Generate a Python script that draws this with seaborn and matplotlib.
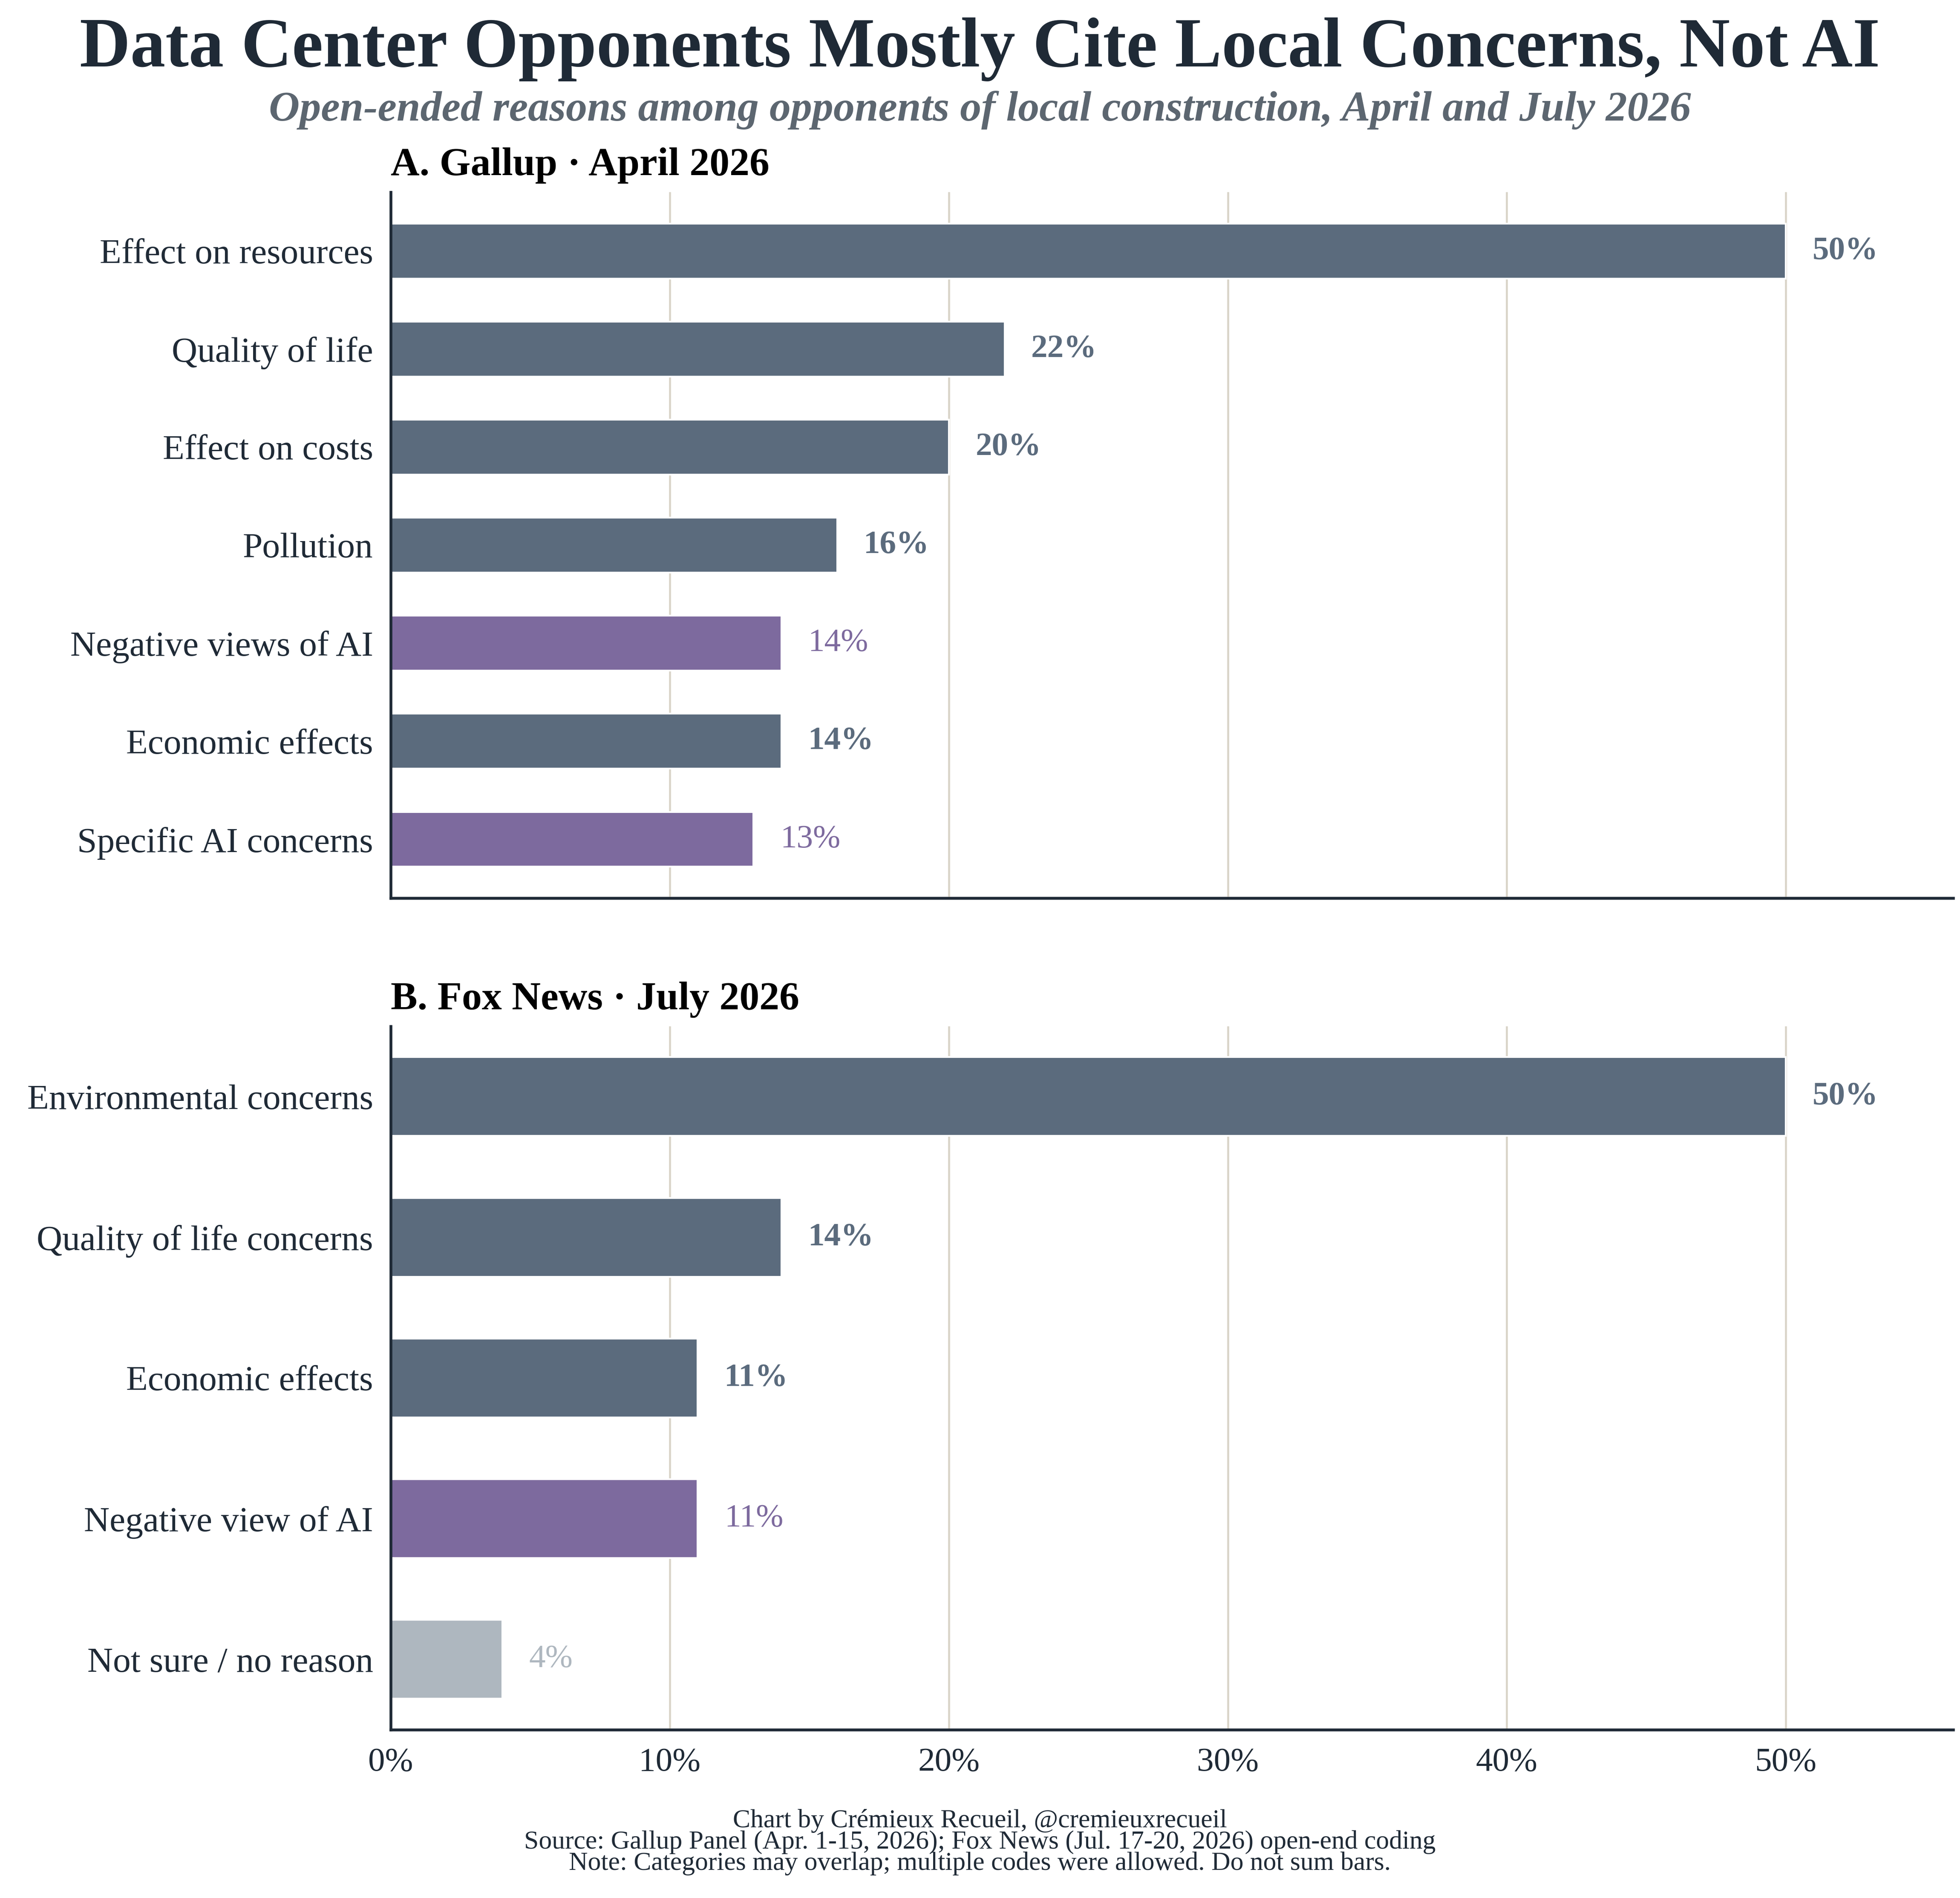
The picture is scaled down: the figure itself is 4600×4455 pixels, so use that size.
import matplotlib
matplotlib.use("Agg")
import matplotlib.pyplot as plt
import seaborn as sns
import pandas as pd

# ---- data ----
gallup_cats = ["Effect on resources", "Quality of life", "Effect on costs", "Pollution",
               "Negative views of AI", "Economic effects", "Specific AI concerns"]
gallup_vals = [50, 22, 20, 16, 14, 14, 13]
gallup_kind = ["local", "local", "local", "local", "ai", "local", "ai"]

fox_cats = ["Environmental concerns", "Quality of life concerns", "Economic effects",
            "Negative view of AI", "Not sure / no reason"]
fox_vals = [50, 14, 11, 11, 4]
fox_kind = ["local", "local", "local", "ai", "none"]

x_ticks = [0, 10, 20, 30, 40, 50]
x_tick_labels = ["0%", "10%", "20%", "30%", "40%", "50%"]

title = "Data Center Opponents Mostly Cite Local Concerns, Not AI"
subtitle = "Open-ended reasons among opponents of local construction, April and July 2026"
panel_a = "A. Gallup · April 2026"
panel_b = "B. Fox News · July 2026"
footer = ["Chart by Crémieux Recueil, @cremieuxrecueil",
          "Source: Gallup Panel (Apr. 1-15, 2026); Fox News (Jul. 17-20, 2026) open-end coding",
          "Note: Categories may overlap; multiple codes were allowed. Do not sum bars."]

# ---- style ----
kind_color = {"local": "#5b6b7d", "ai": "#7d6a9e", "none": "#aeb7bf"}
kind_weight = {"local": "bold", "ai": "normal", "none": "normal"}
DARK = "#1f2a36"
GRID = "#d9d4c8"

sns.set_theme(style="white")
plt.rcParams["font.family"] = ["Liberation Serif", "DejaVu Serif"]

fig = plt.figure(figsize=(4600 / 300, 4455 / 300), dpi=300)
left, right = 0.1994, 0.9965
ax1 = fig.add_axes([left, 0.5268, right - left, 0.3719])
ax2 = fig.add_axes([left, 0.0887, right - left, 0.3706])


def draw(ax, cats, vals, kinds, ptitle, ylim, show_x):
    df = pd.DataFrame({"cat": cats, "val": vals, "kind": kinds})
    pal = {c: kind_color[k] for c, k in zip(cats, kinds)}
    sns.barplot(data=df, x="val", y="cat", hue="cat", palette=pal, legend=False,
                orient="h", width=0.56, saturation=1, ax=ax, order=cats, hue_order=cats)
    for cont, k in zip(ax.containers, kinds):
        ax.bar_label(cont, fmt="%g%%", padding=15, color=kind_color[k],
                     fontweight=kind_weight[k], fontsize=18.5)
    ax.set_xlim(0, 56)
    ax.set_ylim(*ylim)
    ax.set_xlabel("")
    ax.set_ylabel("")
    ax.set_xticks(x_ticks)
    ax.xaxis.grid(True, color=GRID, linewidth=1.1)
    ax.yaxis.grid(False)
    ax.set_axisbelow(True)
    for s in ["top", "right"]:
        ax.spines[s].set_visible(False)
    for s in ["left", "bottom"]:
        ax.spines[s].set_color(DARK)
        ax.spines[s].set_linewidth(1.6)
    ax.tick_params(axis="y", length=0, pad=10, labelsize=20, labelcolor=DARK)
    if show_x:
        ax.set_xticklabels(x_tick_labels)
        ax.tick_params(axis="x", length=0, pad=10, labelsize=19, labelcolor=DARK)
    else:
        ax.tick_params(axis="x", length=0, labelbottom=False)
    ax.text(0, 1.012, ptitle, transform=ax.transAxes, ha="left", va="bottom",
            fontsize=22.5, fontweight="bold", color="black")


draw(ax1, gallup_cats, gallup_vals, gallup_kind, panel_a, (6.6, -0.6), False)
draw(ax2, fox_cats, fox_vals, fox_kind, panel_b, (4.5, -0.5), True)

fig.text(0.5, 0.974, title, ha="center", va="center", fontsize=39.5,
         fontweight="bold", color=DARK)
fig.text(0.5, 0.942, subtitle, ha="center", va="center", fontsize=24,
         style="italic", fontweight="bold", color="#5c6670")
fig.text(0.5, 0.0295, "\n".join(footer), ha="center", va="center",
         fontsize=14.8, color=DARK, linespacing=0.86, multialignment="center")

fig.savefig("out.png", dpi=300)
